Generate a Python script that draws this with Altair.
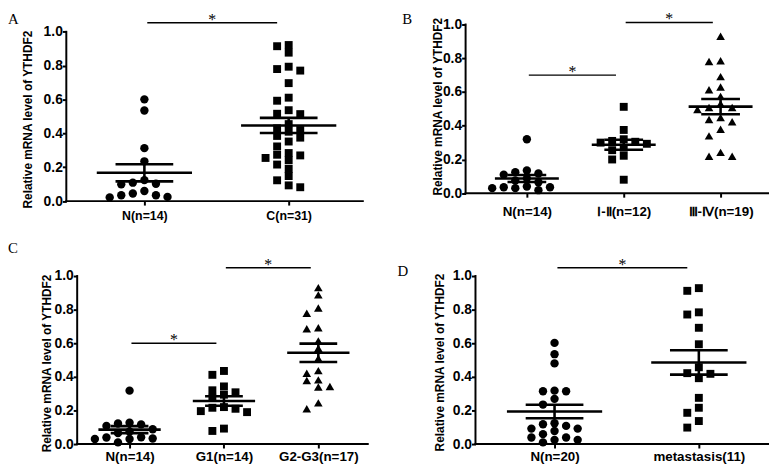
import json
import altair as alt
import pandas as pd

Y_TITLE = "Relative mRNA level of YTHDF2"
Y_TICKS = [0.0, 0.2, 0.4, 0.6, 0.8, 1.0]

# ---------------- data ----------------
# Panel A
A_labels = ["N(n=14)", "C(n=31)"]
A_N = [0.601, 0.535, 0.313, 0.235, 0.124, 0.099, 0.103, 0.109, 0.045, 0.035,
       0.022, 0.025, 0.035, 0.060]
A_C = [0.922, 0.915, 0.877, 0.780, 0.771, 0.794, 0.697, 0.611, 0.593, 0.537,
       0.514, 0.516, 0.455, 0.430, 0.420, 0.410, 0.385, 0.375, 0.352, 0.323,
       0.284, 0.270, 0.274, 0.255, 0.241, 0.216, 0.190, 0.148, 0.123, 0.093, 0.082]
A_sig = [(0, 1, 1.054)]

# Panel B
B_labels = ["N(n=14)", "Ⅰ-Ⅱ(n=12)", "Ⅲ-Ⅳ(n=19)"]
B_N = [0.320, 0.125, 0.110, 0.117, 0.135, 0.088, 0.075, 0.065, 0.035, 0.030,
       0.018, 0.030, 0.035, 0.040]
B_12 = [0.512, 0.375, 0.310, 0.300, 0.320, 0.305, 0.293, 0.270, 0.255, 0.222,
        0.200, 0.080]
B_34 = [0.931, 0.781, 0.785, 0.691, 0.629, 0.613, 0.574, 0.530, 0.508, 0.496,
        0.508, 0.449, 0.424, 0.437, 0.379, 0.340, 0.242, 0.219, 0.219]
B_sig = [(0, 1, 0.700), (1, 2, 1.012)]

# Panel C
C_labels = ["N(n=14)", "G1(n=14)", "G2-G3(n=17)"]
C_N = [0.318, 0.122, 0.108, 0.117, 0.127, 0.088, 0.075, 0.065, 0.039, 0.030,
       0.010, 0.030, 0.033, 0.040]
C_G1 = [0.435, 0.412, 0.343, 0.308, 0.320, 0.294, 0.275, 0.216, 0.196, 0.190,
        0.210, 0.220, 0.078, 0.092]
C_G23 = [0.931, 0.888, 0.810, 0.778, 0.692, 0.686, 0.614, 0.570, 0.510, 0.437,
         0.422, 0.382, 0.378, 0.343, 0.339, 0.245, 0.210]
C_sig = [(0, 1, 0.600), (1, 2, 1.049)]

# Panel D
D_labels = ["N(n=20)", "metastasis(11)"]
D_N = [0.602, 0.535, 0.480, 0.314, 0.314, 0.318, 0.269, 0.235, 0.124, 0.108,
       0.092, 0.078, 0.092, 0.118, 0.039, 0.025, 0.010, 0.025, 0.039, 0.059]
D_M = [0.928, 0.912, 0.784, 0.771, 0.692, 0.594, 0.457, 0.422, 0.418, 0.392,
       0.275, 0.216, 0.186, 0.137, 0.098]
D_sig = [(0, 1, 1.050)]

SIZES = {"circle": 72, "square": 64, "triangle-up": 76}


def swarm_slots(vals, gap=0.042):
    """GraphPad-like column arrangement: each point takes the nearest free column."""
    order = sorted(range(len(vals)), key=lambda i: -vals[i])
    used = {}
    slots = [0] * len(vals)
    cand = [0, -1, 1, -2, 2, -3, 3, -4, 4, -5, 5]
    for i in order:
        for s in cand:
            if all(abs(vals[i] - v) >= gap for v in used.get(s, [])):
                slots[i] = s
                used.setdefault(s, []).append(vals[i])
                break
    return slots


def panel(letter, labels, groups, shapes, sig, geo, fs_x, label_pad, title_x, title_y,
          letter_dx, letter_dy):
    left, right, top, bottom, one_y, cat0, unit, axis_x = geo
    width = right - left
    height = bottom - top
    pxu = bottom - one_y
    ymax = height / pxu
    xmin = (left - cat0) / unit
    xmax = (right - cat0) / unit
    ax = (axis_x - cat0) / unit
    slot_w = 11.7 / unit

    rows = []
    for gi, (vals, shp) in enumerate(zip(groups, shapes)):
        for v, s in zip(vals, swarm_slots(vals)):
            rows.append({"pos": gi, "x": gi + s * slot_w, "value": v,
                         "shape": shp, "sz": SIZES[shp]})
    df = pd.DataFrame(rows)

    xs = alt.Scale(domain=[xmin, xmax], nice=False, zero=False)
    ys = alt.Scale(domain=[0, ymax], nice=False, zero=False)

    x_axis = alt.Axis(values=list(range(len(labels))),
                      labelExpr=json.dumps(labels, ensure_ascii=False) + "[round(datum.value)]",
                      title=None, domain=False, grid=False, tickSize=4, tickWidth=2,
                      labelFontSize=fs_x, labelPadding=label_pad, labelFlush=False,
                      labelOverlap=False)
    y_axis = alt.Axis(values=Y_TICKS, format=".1f", title=Y_TITLE, domain=False, grid=False,
                      tickSize=4, tickWidth=2, labelFontSize=14, labelPadding=0,
                      labelFlush=False, offset=left - axis_x,
                      titleX=title_x, titleY=title_y, titleAngle=270,
                      titleBaseline="middle", titleAlign="center", titleFontSize=12)

    def X(field):
        return alt.X(field, scale=xs, axis=x_axis)

    def Y(field):
        return alt.Y(field, scale=ys, axis=y_axis)

    pts = alt.Chart(df).mark_point(filled=True, opacity=1, color="black", strokeWidth=0).encode(
        x=X("x:Q"), y=Y("value:Q"),
        shape=alt.Shape("shape:N", scale=None),
        size=alt.Size("sz:Q", scale=None),
    )

    agg = alt.Chart(df).transform_aggregate(
        m="mean(value)", se="stderr(value)", groupby=["pos"]
    ).transform_calculate(
        lo="datum.m - datum.se", hi="datum.m + datum.se",
        a1="datum.pos - 0.33", a2="datum.pos + 0.33",
        b1="datum.pos - 0.2", b2="datum.pos + 0.2",
    )
    mean_line = agg.mark_rule(strokeWidth=2.6, color="black").encode(
        x=X("a1:Q"), x2="a2:Q", y=Y("m:Q"))
    sem_hi = agg.mark_rule(strokeWidth=2.6, color="black").encode(
        x=X("b1:Q"), x2="b2:Q", y=Y("hi:Q"))
    sem_lo = agg.mark_rule(strokeWidth=2.6, color="black").encode(
        x=X("b1:Q"), x2="b2:Q", y=Y("lo:Q"))
    sem_v = agg.mark_rule(strokeWidth=2.6, color="black").encode(
        x=X("pos:Q"), y=Y("lo:Q"), y2="hi:Q")

    axes_df = pd.DataFrame({"x0": [ax, ax], "x1": [ax, xmax], "y0": [0.0, 0.0], "y1": [1.0, 0.0]})
    axis_lines = alt.Chart(axes_df).mark_rule(strokeWidth=2, color="black", strokeCap="square").encode(
        x=X("x0:Q"), x2="x1:Q", y=Y("y0:Q"), y2="y1:Q")

    sig_df = pd.DataFrame([{"x1": a + 0.02, "x2": b - 0.08, "xm": (a + b) / 2 - 0.03,
                            "lvl": lvl, "t": "*"} for a, b, lvl in sig])
    bars = alt.Chart(sig_df).mark_rule(strokeWidth=1.5, color="black").encode(
        x=X("x1:Q"), x2="x2:Q", y=Y("lvl:Q"))
    stars = alt.Chart(sig_df).mark_text(font="Liberation Serif", fontSize=16, baseline="alphabetic",
                                        align="center", dy=2, color="black").encode(
        x=X("xm:Q"), y=Y("lvl:Q"), text="t:N")

    letter_mark = alt.Chart(pd.DataFrame({"t": [letter]})).mark_text(
        font="Liberation Serif", fontSize=15, align="left", baseline="top", color="black"
    ).encode(text="t:N", x=alt.value(letter_dx), y=alt.value(letter_dy))

    return alt.layer(pts, mean_line, sem_hi, sem_lo, sem_v, axis_lines, bars, stars,
                     letter_mark).properties(width=width, height=height)


# geometry in page pixels: left, right, top, bottom(zero), y of 1.0, x of first category,
# px per category, x of the y axis
pA = panel("A", A_labels, [A_N, A_C], ["circle", "square"], A_sig,
           (67, 367, 23.3, 202, 30.7, 146, 146, 67), 12.5, 5, -39, 95.7, -59, -12.8)
pB = panel("B", B_labels, [B_N, B_12, B_34], ["circle", "square", "triangle-up"], B_sig,
           (467, 773, 23.3, 194, 23.3, 529, 98, 467), 13.5, 8, -28, 82.7, -64, -12.8)
pC = panel("C", C_labels, [C_N, C_G1, C_G23], ["circle", "square", "triangle-up"], C_sig,
           (67, 372, 275, 445, 275, 131, 95.5, 78), 13.5, 2, -30.5, 88, -59, -35.2)
pD = panel("D", D_labels, [D_N, D_M], ["circle", "square"], D_sig,
           (467, 773, 275, 445, 275, 557, 146, 477), 13.5, 2, -36, 87, -69, -11.9)

chart = alt.concat(pA, pB, pC, pD, columns=2, spacing=alt.RowColnumber(row=75.5, column=98),
                   bounds="flush", align="all").properties(
    padding=0, background="white"
).configure_view(stroke=None).configure_axis(
    labelFont="Liberation Sans", labelFontWeight="bold", labelColor="black",
    titleFont="Liberation Sans", titleFontWeight="bold", titleColor="black",
    tickColor="black",
)

chart.save("out.html", embed_options={"renderer": "svg", "actions": False})
